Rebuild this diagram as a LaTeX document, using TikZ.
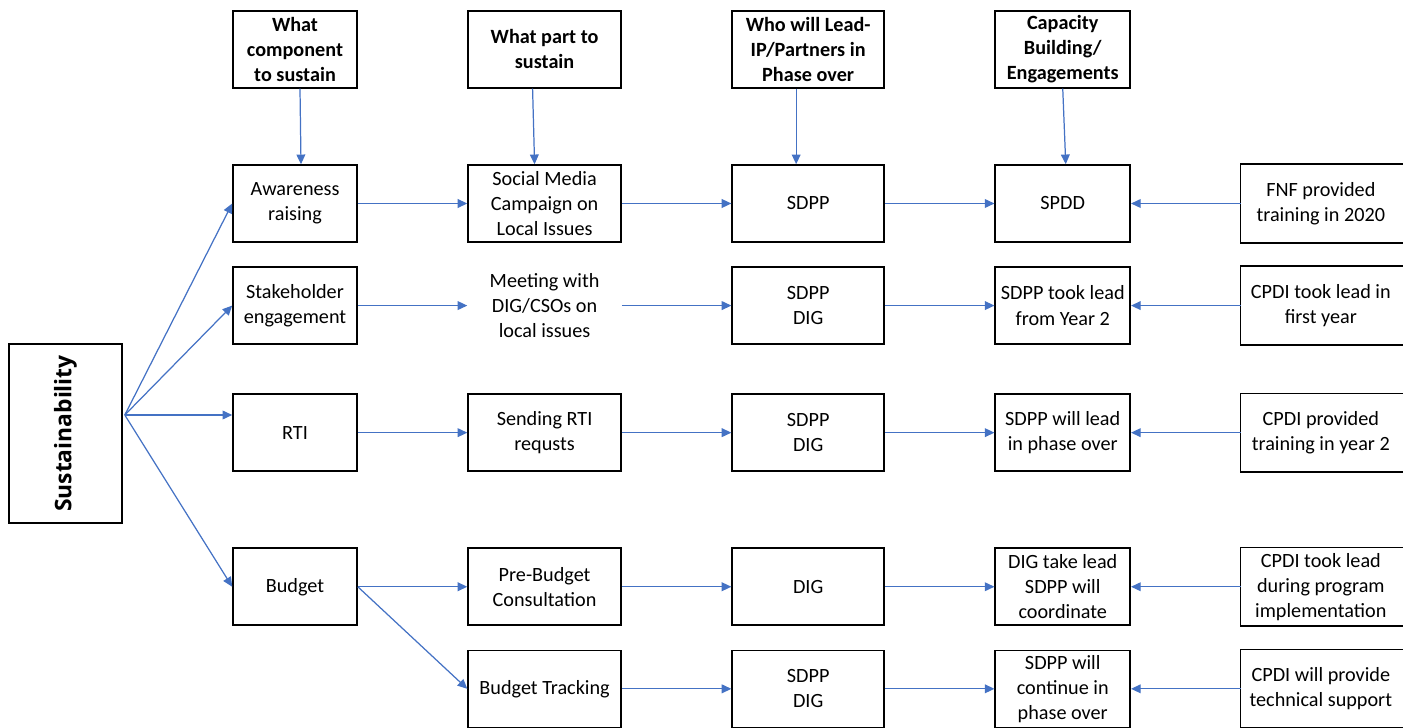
\documentclass[tikz,border=0pt]{standalone}
\usepackage{fontspec}
\setmainfont{Carlito}
\newfontfamily\sustfont{Open Sans}
\usepackage{xcolor}
\usepackage{tikz}
\usetikzlibrary{positioning, arrows.meta, calc}
\definecolor{arrblue}{HTML}{4472C4}

\begin{document}
\begin{tikzpicture}[
  >={Triangle[length=5.5pt,width=5pt]},
  node distance=4.7mm and 21.9mm,
  box/.style={draw, line width=0.9pt, minimum width=2.48cm, minimum height=1.54cm, inner sep=1pt, align=center, font=\fontsize{11.5pt}{14.3pt}\selectfont},
  box2/.style={box, minimum width=3.06cm},
  box3/.style={box, minimum width=3.04cm},
  box4/.style={box, minimum width=2.7cm},
  box5/.style={box, draw=none, minimum width=3.18cm},
  plain/.style={box2, draw=none},
  hdr/.style={font=\fontsize{11.5pt}{14.3pt}\selectfont\bfseries},
  sust/.style={draw, line width=0.9pt, rotate=90, minimum width=3.58cm, minimum height=2.26cm, font=\sustfont\bfseries\fontsize{13pt}{15pt}\selectfont},
  arr/.style={->, arrblue, line width=0.7pt}
]
  \useasboundingbox (0,0) rectangle (28.06,-14.56);

  \node[sust] (sust) at (1.31,-8.67) {Sustainability};
  \coordinate (fan) at ($(sust.south)+(0.04,0.37)$);

  % row 1
  \node[box] (aware) at (5.9,-4.07) {Awareness\\raising};
  \node[box2, right=of aware] (social) {Social Media\\Campaign on\\Local Issues};
  \node[box3, right=of social] (lead1) {SDPP};
  \node[box4, right=of lead1] (cap1) {SPDD};
  \node[box5, right=of cap1] (fnf) {FNF provided\\training in 2020};

  % headers
  \node[box, hdr, above=1.51cm of aware] (hcomp) {What\\component\\to sustain};
  \node[box2, hdr, above=1.51cm of social] (hpart) {What part to\\sustain};
  \node[box3, hdr, above=1.51cm of lead1] (hlead) {Who will Lead-\\IP/Partners in\\Phase over};
  \node[box4, hdr, above=1.51cm of cap1] (hcap) {Capacity\\Building/\\Engagements};

  % row 2
  \node[box, below=of aware] (stake) {Stakeholder\\engagement};
  \node[plain, right=of stake] (meet) {Meeting with\\DIG/CSOs on\\local issues};
  \node[box3, right=of meet] (lead2) {SDPP\\DIG};
  \node[box4, right=of lead2] (cap2) {SDPP took lead\\from Year 2};
  \node[box5, right=of cap2] (cpdi2) {CPDI took lead in\\first year};

  % row 3
  \node[box, below=0.97cm of stake] (rti) {RTI};
  \node[box2, right=of rti] (send) {Sending RTI\\requsts};
  \node[box3, right=of send] (lead3) {SDPP\\DIG};
  \node[box4, right=of lead3] (cap3) {SDPP will lead\\in phase over};
  \node[box5, right=of cap3] (cpdi3) {CPDI provided\\training in year 2};

  % row 4
  \node[box, below=1.51cm of rti] (budget) {Budget};
  \node[box2, right=of budget] (prebud) {Pre-Budget\\Consultation};
  \node[box3, right=of prebud] (lead4) {DIG};
  \node[box4, right=of lead4] (cap4) {DIG take lead\\SDPP will\\coordinate};
  \node[box5, right=of cap4] (cpdi4) {CPDI took lead\\during program\\implementation};

  % row 5
  \node[box2, below=of prebud] (track) {Budget Tracking};
  \node[box3, right=of track] (lead5) {SDPP\\DIG};
  \node[box4, right=of lead5] (cap5) {SDPP will\\continue in\\phase over};
  \node[box5, right=of cap5] (cpdi5) {CPDI will provide\\technical support};

  % right column boxes run off the edge
  \foreach \n in {fnf,cpdi2,cpdi3,cpdi4,cpdi5}
    \draw[line width=0.9pt] ([xshift=0.5cm]\n.north east) -- (\n.north west)
      -- (\n.south west) -- ([xshift=0.5cm]\n.south east);

  % headers down
  \draw[arr] ([xshift=0.1cm]hcomp.south) -- ([xshift=0.12cm]aware.north);
  \draw[arr] ([xshift=-0.24cm]hpart.south) -- ([xshift=-0.2cm]social.north);
  \draw[arr] ([xshift=-0.24cm]hlead.south) -- ([xshift=-0.24cm]lead1.north);
  \draw[arr] (hcap.south) -- ([xshift=0.06cm]cap1.north);

  % fan out
  \draw[arr] (fan) -- (aware.west);
  \draw[arr] (fan) -- (stake.west);
  \draw[arr] (fan) -- (fan -| rti.west);
  \draw[arr] (fan) -- (budget.west);

  % rows
  \draw[arr] (aware) -- (social);
  \draw[arr] (social) -- (lead1);
  \draw[arr] (lead1) -- (cap1);
  \draw[arr] (fnf) -- (cap1);

  \draw[arr] (stake) -- (meet);
  \draw[arr] (meet) -- (lead2);
  \draw[arr] (lead2) -- (cap2);
  \draw[arr] (cpdi2) -- (cap2);

  \draw[arr] (rti) -- (send);
  \draw[arr] (send) -- (lead3);
  \draw[arr] (lead3) -- (cap3);
  \draw[arr] (cpdi3) -- (cap3);

  \draw[arr] (budget) -- (prebud);
  \draw[arr] (budget.east) -- (track.west);
  \draw[arr] (prebud) -- (lead4);
  \draw[arr] (lead4) -- (cap4);
  \draw[arr] (cpdi4) -- (cap4);

  \draw[arr] (track) -- (lead5);
  \draw[arr] (lead5) -- (cap5);
  \draw[arr] (cpdi5) -- (cap5);
\end{tikzpicture}
\end{document}
